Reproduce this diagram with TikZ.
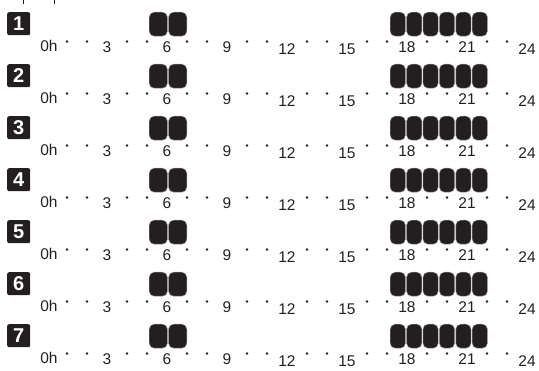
\documentclass[tikz,border=0pt]{standalone}
\usepackage{fontspec}
\setmainfont{Liberation Sans}
\usepackage{tikz}
\usetikzlibrary{positioning}
\definecolor{tsblack}{RGB}{35,31,32}
\definecolor{tsedge}{RGB}{150,148,150}

\begin{document}
\begin{tikzpicture}[x=1pt,y=-1pt,
  daybox/.style={fill=tsblack,rounded corners=2pt,minimum width=23pt,
    minimum height=23pt,inner sep=0pt,text=white,
    font=\fontsize{20}{20}\selectfont\bfseries},
  hourlbl/.style={inner sep=0pt,text=tsblack,font=\fontsize{15.5}{15.5}\selectfont},
  slot/.style={fill=tsblack,draw=tsedge,line width=0.4pt,rounded corners=5pt,
    minimum height=24pt,inner sep=0pt,anchor=north west},
  tick/.style={circle,fill=tsblack,inner sep=0pt,minimum size=2.8pt}]
  \useasboundingbox (0,0) rectangle (539,371);
  % cut-off strokes at the top edge
  \draw[tsblack,line width=0.9pt] (23,0) -- (23,4);
  \draw[tsblack,line width=0.9pt] (54,0) -- (54,4);
  \foreach \d [evaluate=\d as \rowy using {12+52*(\d-1)}] in {1,...,7} {
    \node[daybox,anchor=north west] (day\d) at (7,\rowy) {\d};
    % hour dots
    \foreach \h in {1,2,4,5,7,8,10,11,13,14,16,17,19,20,22,23}
      \node[tick] (dot\d-\h) at ({47+20*\h},\rowy+29.5) {};
    % hour labels
    \foreach \h/\txt/\dy in {0/0h/-1.5,3/3/0,6/6/0,9/9/0,12/12/1.5,15/15/1.5,
        18/18/0,21/21/0,24/24/1.5}
      \node[hourlbl] (lbl\d-\h) at ({47+20*\h+(\h==0)*2},\rowy+35.5+\dy) {\txt};
    % switching periods
    \foreach \k in {0,1}
      \node[slot,minimum width=18.2pt] (am\d-\k) at ({149+19.4*\k},\rowy) {};
    \foreach \k in {0,...,5}
      \node[slot,minimum width=15.2pt] (pm\d-\k) at ({390+16.4*\k},\rowy) {};
  }
\end{tikzpicture}
\end{document}
